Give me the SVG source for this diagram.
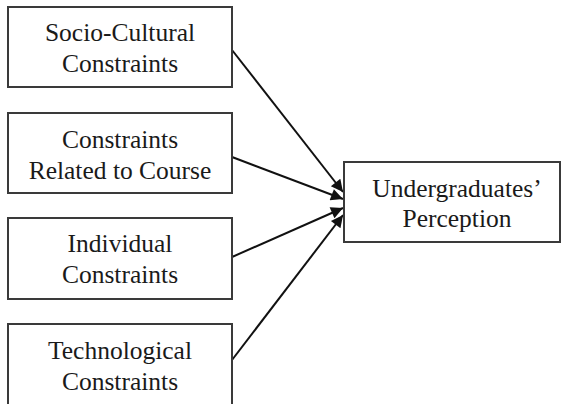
<svg xmlns="http://www.w3.org/2000/svg" width="562" height="404" viewBox="0 0 562 404">
<style>
.box{fill:#fff;stroke:#3a3a3a;stroke-width:2}
.t{font-family:"Liberation Serif","Times New Roman",serif;font-size:25.5px;fill:#1a1a1a;text-anchor:middle}
.c{stroke:#111;stroke-width:2;fill:none;marker-end:url(#ah)}
</style>
<defs>
<marker id="ah" viewBox="0 0 10 10" refX="10" refY="5" markerWidth="7" markerHeight="6" orient="auto" markerUnits="strokeWidth">
<path d="M0,0 L10,5 L0,10 z" fill="#111"/>
</marker>
</defs>
<rect width="562" height="404" fill="#fff"/>
<g id="connectors">
<line class="c" x1="232" y1="50" x2="343" y2="192"/>
<line class="c" x1="232" y1="157" x2="343" y2="199"/>
<line class="c" x1="232" y1="257" x2="343" y2="208"/>
<line class="c" x1="232" y1="360" x2="343" y2="215"/>
</g>
<g id="socio">
<rect class="box" x="8" y="7" width="224" height="80"/>
<text class="t" x="120" y="41">Socio-Cultural</text>
<text class="t" x="120" y="72">Constraints</text>
</g>
<g id="course">
<rect class="box" x="8" y="113" width="224" height="80"/>
<text class="t" x="120" y="148">Constraints</text>
<text class="t" x="120" y="179">Related to Course</text>
</g>
<g id="individual">
<rect class="box" x="8" y="218" width="224" height="81"/>
<text class="t" x="120" y="252">Individual</text>
<text class="t" x="120" y="283">Constraints</text>
</g>
<g id="technological">
<rect class="box" x="8" y="324" width="224" height="90"/>
<text class="t" x="120" y="359">Technological</text>
<text class="t" x="120" y="390">Constraints</text>
</g>
<g id="perception">
<rect class="box" x="344" y="162" width="216" height="80"/>
<text class="t" x="457" y="197">Undergraduates’</text>
<text class="t" x="457" y="227">Perception</text>
</g>
</svg>
